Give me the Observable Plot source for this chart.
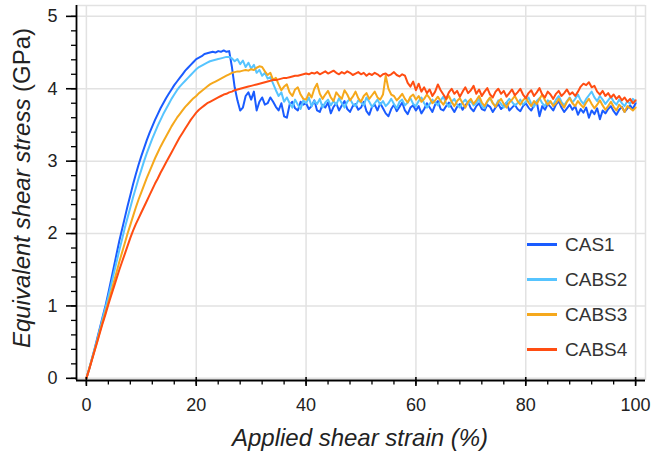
<!DOCTYPE html>
<html><head><meta charset="utf-8">
<script src="https://cdn.jsdelivr.net/npm/d3@7"></script>
<script src="https://cdn.jsdelivr.net/npm/@observablehq/plot@0.6"></script>
<style>
body{margin:0;background:#fff;font-family:"Liberation Sans",Arial,sans-serif;}
#wrap{position:relative;width:651px;height:457px;}
#legend{position:absolute;left:527px;top:227px;}
.item{display:flex;align-items:center;height:35px;font-size:19px;color:#333;}
.sw{display:inline-block;width:30px;height:2.5px;margin-right:8px;}
.ttl{position:absolute;font-size:24px;color:#222;white-space:nowrap;}
#xt{left:360px;top:438px;transform:translate(-50%,-50%);font-style:italic;}
#yt{left:22px;top:188px;transform:translate(-50%,-50%) rotate(-90deg);}
</style></head><body><div id="wrap"></div>
<script>
// strain samples (%), every 0.5 %
const strain = d3.range(0, 100.25, 0.5);
const CAS1 = [
0,0.13,0.27,0.41,0.56,0.71,0.86,1.01,1.18,1.36,
1.54,1.72,1.90,2.06,2.22,2.38,2.53,2.68,2.82,2.95,
3.07,3.18,3.29,3.39,3.48,3.57,3.65,3.73,3.80,3.87,
3.93,3.99,4.05,4.10,4.15,4.20,4.25,4.29,4.33,4.37,
4.41,4.43,4.45,4.48,4.49,4.50,4.51,4.50,4.52,4.51,
4.53,4.51,4.52,4.30,4.02,3.84,3.70,3.74,3.90,3.95,
3.85,3.96,3.70,3.82,3.88,3.78,3.80,3.88,3.82,3.75,
3.70,3.80,3.62,3.60,3.78,3.82,3.73,3.70,3.82,3.78,
3.80,3.72,3.76,3.84,3.70,3.68,3.78,3.74,3.81,3.66,
3.75,3.80,3.70,3.77,3.83,3.72,3.68,3.76,3.79,3.71,
3.74,3.82,3.69,3.64,3.75,3.78,3.70,3.80,3.73,3.66,
3.62,3.72,3.78,3.69,3.75,3.81,3.70,3.65,3.74,3.77,
3.70,3.76,3.66,3.72,3.80,3.74,3.68,3.78,3.83,3.72,
3.70,3.76,3.81,3.74,3.68,3.75,3.79,3.71,3.77,3.82,
3.73,3.69,3.76,3.80,3.72,3.70,3.78,3.75,3.68,3.74,
3.79,3.72,3.76,3.81,3.70,3.74,3.78,3.72,3.69,3.76,
3.80,3.74,3.70,3.77,3.82,3.62,3.76,3.71,3.79,3.75,
3.70,3.78,3.83,3.74,3.68,3.73,3.78,3.71,3.76,3.64,
3.72,3.67,3.74,3.60,3.70,3.65,3.73,3.58,3.70,3.66,
3.72,3.76,3.69,3.64,3.71,3.75,3.68,3.73,3.77,3.72,
3.80];
const CABS2 = [
0,0.13,0.26,0.40,0.54,0.69,0.84,0.98,1.13,1.29,
1.45,1.61,1.77,1.92,2.08,2.22,2.36,2.50,2.63,2.76,
2.88,3.00,3.11,3.21,3.31,3.40,3.49,3.57,3.65,3.72,
3.79,3.86,3.92,3.98,4.03,4.07,4.11,4.15,4.19,4.23,
4.27,4.30,4.32,4.34,4.36,4.38,4.39,4.40,4.41,4.42,
4.43,4.44,4.44,4.42,4.38,4.41,4.34,4.39,4.30,4.36,
4.28,4.33,4.22,4.26,4.18,4.22,4.14,4.16,4.07,3.98,
3.90,3.95,3.82,3.88,3.80,3.74,3.85,3.78,3.72,3.84,
3.80,3.88,3.76,3.83,3.79,3.86,3.74,3.81,3.85,3.77,
3.83,3.78,3.87,3.80,3.74,3.82,3.86,3.79,3.76,3.84,
3.81,3.77,3.88,3.82,3.75,3.80,3.85,3.78,3.83,3.76,
3.80,3.86,3.79,3.73,3.82,3.85,3.77,3.81,3.87,3.79,
3.76,3.83,3.88,3.80,3.74,3.79,3.85,3.81,3.77,3.84,
3.89,3.80,3.75,3.82,3.86,3.78,3.74,3.81,3.85,3.79,
3.83,3.77,3.80,3.86,3.76,3.73,3.82,3.87,3.80,3.76,
3.84,3.79,3.74,3.81,3.86,3.82,3.77,3.80,3.85,3.78,
3.82,3.88,3.79,3.75,3.83,3.87,3.80,3.76,3.84,3.81,
3.78,3.85,3.90,3.82,3.77,3.83,3.88,3.81,3.86,3.92,
3.84,3.79,3.86,3.91,3.96,3.88,3.83,3.90,3.85,3.79,
3.84,3.89,3.82,3.78,3.85,3.80,3.76,3.83,3.79,3.86,
3.82];
const CABS3 = [
0,0.13,0.26,0.39,0.52,0.66,0.79,0.92,1.05,1.19,
1.33,1.47,1.61,1.74,1.87,2.00,2.12,2.24,2.36,2.47,
2.57,2.67,2.77,2.86,2.95,3.04,3.12,3.20,3.27,3.34,
3.41,3.48,3.54,3.60,3.65,3.70,3.75,3.79,3.83,3.87,
3.90,3.94,3.97,4.00,4.03,4.06,4.08,4.10,4.12,4.14,
4.16,4.18,4.20,4.22,4.23,4.24,4.24,4.25,4.26,4.25,
4.27,4.26,4.29,4.31,4.30,4.24,4.19,4.22,4.12,4.15,
4.06,3.98,4.03,4.06,3.95,3.90,3.99,4.02,3.92,3.86,
3.85,3.94,3.88,4.00,4.07,3.93,3.86,3.92,3.97,3.88,
3.83,3.95,3.90,3.86,3.98,3.92,3.84,3.89,3.96,3.87,
3.82,3.90,3.94,3.86,3.91,3.96,3.88,3.85,3.92,4.18,
4.00,3.92,3.90,3.84,3.88,3.93,3.86,3.81,3.89,3.92,
3.85,3.90,3.82,3.86,3.92,3.87,3.80,3.84,3.89,3.83,
3.78,3.85,3.90,3.82,3.76,3.83,3.87,3.80,3.74,3.82,
3.86,3.79,3.84,3.90,3.81,3.76,3.83,3.88,3.80,3.75,
3.82,3.86,3.79,3.74,3.81,3.85,3.90,3.83,3.78,3.84,
3.88,3.81,3.76,3.83,3.79,3.86,3.92,3.84,3.78,3.83,
3.76,3.80,3.86,3.79,3.74,3.82,3.87,3.80,3.76,3.83,
3.78,3.74,3.81,3.86,3.79,3.73,3.78,3.84,3.77,3.71,
3.76,3.82,3.75,3.70,3.78,3.74,3.68,3.76,3.73,3.70,
3.74];
const CABS4 = [
0,0.12,0.25,0.38,0.51,0.64,0.77,0.89,1.02,1.14,
1.26,1.38,1.50,1.61,1.72,1.83,1.94,2.04,2.13,2.21,
2.29,2.37,2.45,2.53,2.61,2.69,2.76,2.84,2.91,2.98,
3.05,3.12,3.19,3.26,3.33,3.39,3.45,3.51,3.57,3.62,
3.67,3.71,3.74,3.77,3.80,3.82,3.84,3.86,3.88,3.90,
3.92,3.93,3.95,3.96,3.98,3.99,4.00,4.01,4.02,4.03,
4.04,4.05,4.06,4.07,4.08,4.09,4.10,4.11,4.12,4.12,
4.13,4.14,4.15,4.15,4.16,4.17,4.18,4.18,4.19,4.20,
4.21,4.20,4.22,4.21,4.23,4.20,4.22,4.24,4.21,4.23,
4.25,4.22,4.20,4.23,4.21,4.24,4.22,4.19,4.21,4.23,
4.20,4.22,4.18,4.21,4.19,4.22,4.20,4.17,4.20,4.21,
4.18,4.20,4.23,4.19,4.17,4.20,4.18,4.08,4.03,4.10,
3.98,4.07,3.96,4.02,3.94,3.99,3.90,3.96,4.06,3.98,
3.92,3.86,3.95,4.00,3.93,3.97,3.89,3.96,4.02,3.94,
3.98,4.04,3.93,3.99,3.90,3.96,4.01,3.92,3.88,3.96,
4.00,3.93,3.97,3.89,3.94,3.99,3.91,3.95,4.00,3.92,
3.87,3.94,3.98,3.90,3.95,4.01,3.92,3.88,3.96,3.92,
3.86,3.93,3.97,3.90,3.94,3.99,3.92,3.95,3.90,3.96,
4.03,4.07,4.05,4.09,4.02,4.04,3.96,3.92,3.97,3.90,
3.94,3.88,3.92,3.86,3.90,3.84,3.88,3.82,3.86,3.80,
3.84];
const seriesNames = ["CAS1", "CABS2", "CABS3", "CABS4"];
const seriesValues = [CAS1, CABS2, CABS3, CABS4];
const seriesColors = ["#1a5cff", "#56c4ff", "#f5a81c", "#ff4d12"];
const xMajor = [0, 20, 40, 60, 80, 100];
const xMinor = d3.range(0, 101, 4);
const yMajor = [0, 1, 2, 3, 4, 5];
const yMinor = d3.range(0, 5.01, 0.2);
const xTitle = "Applied shear strain (%)";
const yTitleItalic = "Equivalent shear stress";
const yTitleUnit = "(GPa)";

const rows = [];
seriesNames.forEach((name, i) => {
  seriesValues[i].forEach((v, j) => rows.push({series: name, strain: strain[j], stress: v}));
});

const W = 651, H = 457, mL = 76, mR = 6, mT = 5, mB = 77;
const xDom = [-1.8, 101.8], yDom = [-0.03, 5.15];
const ux = (xDom[1] - xDom[0]) / (W - mL - mR);   // data units per pixel
const uy = (yDom[1] - yDom[0]) / (H - mT - mB);
const x0 = xDom[0], y0 = yDom[0], x1 = xDom[1], y1 = yDom[1];
const font = "'Liberation Sans', Arial, sans-serif";
const fmt = d => String(d);
const chart = Plot.plot({
  width: W, height: H,
  marginLeft: mL, marginRight: mR, marginTop: mT, marginBottom: mB,
  style: {fontFamily: font},
  x: {domain: xDom},
  y: {domain: yDom},
  color: {domain: seriesNames, range: seriesColors},
  marks: [
    Plot.gridX(xMajor, {stroke: "#e2e2e2", strokeOpacity: 1, strokeWidth: 1.5}),
    Plot.gridY(yMajor, {stroke: "#e2e2e2", strokeOpacity: 1, strokeWidth: 1.5}),
    // light top / right border of the plot box
    Plot.ruleY([y1], {stroke: "#e2e2e2", strokeWidth: 1.5}),
    Plot.ruleX([x1], {stroke: "#e2e2e2", strokeWidth: 1.5}),
    Plot.line(rows, {x: "strain", y: "stress", z: "series", stroke: "series", strokeWidth: 2}),
    // black axis lines along the bottom and left of the box
    Plot.ruleY([y0], {stroke: "black", strokeWidth: 1.8}),
    Plot.ruleX([x0], {stroke: "black", strokeWidth: 1.8}),
    // tick marks: minor outside the axis, major crossing it
    Plot.ruleX(xMinor, {y1: y0, y2: y0 - 4.5 * uy, stroke: "black", strokeWidth: 1.3}),
    Plot.ruleX(xMajor, {y1: y0 + 3 * uy, y2: y0 - 6 * uy, stroke: "black", strokeWidth: 1.6}),
    Plot.ruleY(yMinor, {x1: x0, x2: x0 - 5 * ux, stroke: "black", strokeWidth: 1.3}),
    Plot.ruleY(yMajor, {x1: x0, x2: x0 - 10 * ux, stroke: "black", strokeWidth: 1.6}),
    Plot.axisX({ticks: xMajor, tickSize: 0, tickPadding: 18, fontSize: 18, tickFormat: fmt, label: null, fill: "#222"}),
    Plot.axisY({ticks: yMajor, tickSize: 0, tickPadding: 19, fontSize: 18, tickFormat: fmt, label: null, fill: "#222"})
  ]
});
const wrap = document.getElementById("wrap");
wrap.appendChild(chart);

const xt = document.createElement("div");
xt.id = "xt"; xt.className = "ttl"; xt.textContent = xTitle;
wrap.appendChild(xt);
const yt = document.createElement("div");
yt.id = "yt"; yt.className = "ttl";
yt.innerHTML = "<i>" + yTitleItalic + "</i> " + yTitleUnit;
wrap.appendChild(yt);

const legend = document.createElement("div");
legend.id = "legend";
seriesNames.forEach((name, i) => {
  const it = document.createElement("div");
  it.className = "item";
  it.innerHTML = `<span class="sw" style="background:${seriesColors[i]}"></span><span>${name}</span>`;
  legend.appendChild(it);
});
wrap.appendChild(legend);
</script>
</body></html>
